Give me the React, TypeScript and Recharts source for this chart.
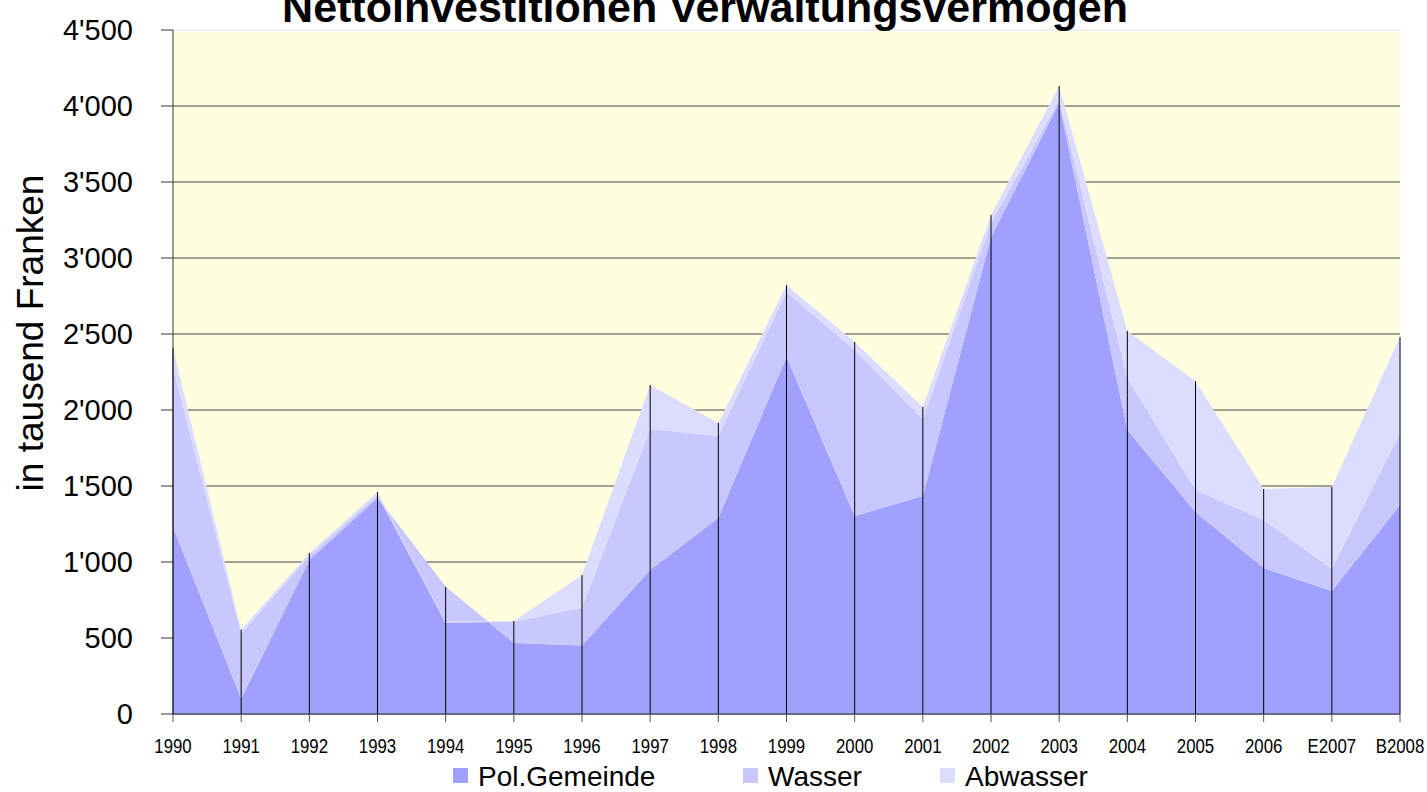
import { AreaChart, Area, XAxis, YAxis, CartesianGrid, ReferenceLine } from "recharts";

// Nettoinvestitionen Verwaltungsvermögen, in tausend Franken
const categories = [
  "1990", "1991", "1992", "1993", "1994", "1995", "1996", "1997", "1998", "1999",
  "2000", "2001", "2002", "2003", "2004", "2005", "2006", "E2007", "B2008",
];
const polGemeinde = [1230, 100, 1013, 1421, 836, 467, 450, 947, 1290, 2349, 1303, 1434, 3138, 4020, 1868, 1329, 960, 809, 1375];
const wasser = [1053, 430, 26, 19, -238, 140, 250, 928, 539, 427, 1092, 507, 92, 20, 342, 145, 316, 145, 473];
const abwasser = [125, 25, 20, 20, 10, 5, 214, 289, 86, 46, 52, 79, 53, 92, 310, 716, 204, 539, 632];

const yTicks = [0, 500, 1000, 1500, 2000, 2500, 3000, 3500, 4000, 4500];
const seriesKeys = ["pol", "wasser", "abwasser"];
const seriesNames = ["Pol.Gemeinde", "Wasser", "Abwasser"];
const seriesColors = ["#a0a0ff", "#c8c8ff", "#dcdcff"];
const legendX = [453, 743, 940];

const FONT = "'Liberation Sans', Arial, sans-serif";

const data = categories.map((c, i) => ({
  year: c,
  pol: polGemeinde[i],
  wasser: wasser[i],
  abwasser: abwasser[i],
}));

// Fall-Linien reichen bis zum höchsten kumulierten Wert
const dropTops = categories.map((_, i) => {
  const a = polGemeinde[i];
  const b = a + wasser[i];
  const c = b + abwasser[i];
  return Math.max(a, b, c);
});

const fmt = (v: number) => {
  const s = String(v);
  return s.length > 3 ? s.slice(0, s.length - 3) + "'" + s.slice(-3) : s;
};

function XTick(props: any) {
  const { x, y, payload } = props;
  return (
    <g transform={`translate(${x},${y}) scale(0.8,1)`}>
      <text x={0} y={0} dy={29} textAnchor="middle" fontSize={21} fontFamily={FONT} fill="#000">
        {payload.value}
      </text>
    </g>
  );
}

export default function App() {
  return (
    <div style={{ position: "absolute", left: 0, top: 0, width: 1427, height: 792, background: "#fff" }}>
      <AreaChart width={1427} height={792} data={data} margin={{ top: 30, right: 27, left: 0, bottom: 0 }}>
        <CartesianGrid vertical={false} stroke="#444" fill="#ffffe0" />
        <XAxis
          dataKey="year"
          interval={0}
          height={78}
          tickSize={8}
          tickMargin={2}
          tick={<XTick />}
          axisLine={{ stroke: "#333" }}
          tickLine={{ stroke: "#555" }}
        />
        <YAxis
          width={173}
          domain={[0, 4500]}
          ticks={yTicks}
          interval={0}
          tickSize={12}
          tickMargin={28}
          tickFormatter={fmt}
          tick={{ fontSize: 29, fontFamily: FONT, fill: "#000" }}
          axisLine={{ stroke: "#333" }}
          tickLine={{ stroke: "#333" }}
        />
        <ReferenceLine y={4500} stroke="#eeeefc" strokeWidth={2} />
        {seriesKeys.map((k, i) => (
          <Area
            key={k}
            type="linear"
            dataKey={k}
            name={seriesNames[i]}
            stackId="1"
            stroke="none"
            fill={seriesColors[i]}
            fillOpacity={1}
            dot={false}
            activeDot={false}
            isAnimationActive={false}
          />
        ))}
        {categories.map((c, i) => (
          <ReferenceLine
            key={"d" + c}
            segment={[{ x: c, y: 0 }, { x: c, y: dropTops[i] }]}
            stroke="#000"
            strokeWidth={1}
            ifOverflow="visible"
          />
        ))}
      </AreaChart>
      <svg
        width={1427}
        height={792}
        style={{ position: "absolute", left: 0, top: 0, pointerEvents: "none" }}
      >
        <text x={705} y={22} textAnchor="middle" fontSize={43} fontWeight="bold" fontFamily={FONT} fill="#000">
          Nettoinvestitionen Verwaltungsvermögen
        </text>
        <text
          x={43}
          y={333}
          transform="rotate(-90, 43, 333)"
          textAnchor="middle"
          fontSize={37}
          fontFamily={FONT}
          fill="#000"
        >
          in tausend Franken
        </text>
        {seriesNames.map((n, i) => (
          <g key={n}>
            <rect x={legendX[i]} y={768} width={15} height={15} fill={seriesColors[i]} />
            <text x={legendX[i] + 25} y={786} fontSize={28} fontFamily={FONT} fill="#000">
              {n}
            </text>
          </g>
        ))}
      </svg>
    </div>
  );
}
